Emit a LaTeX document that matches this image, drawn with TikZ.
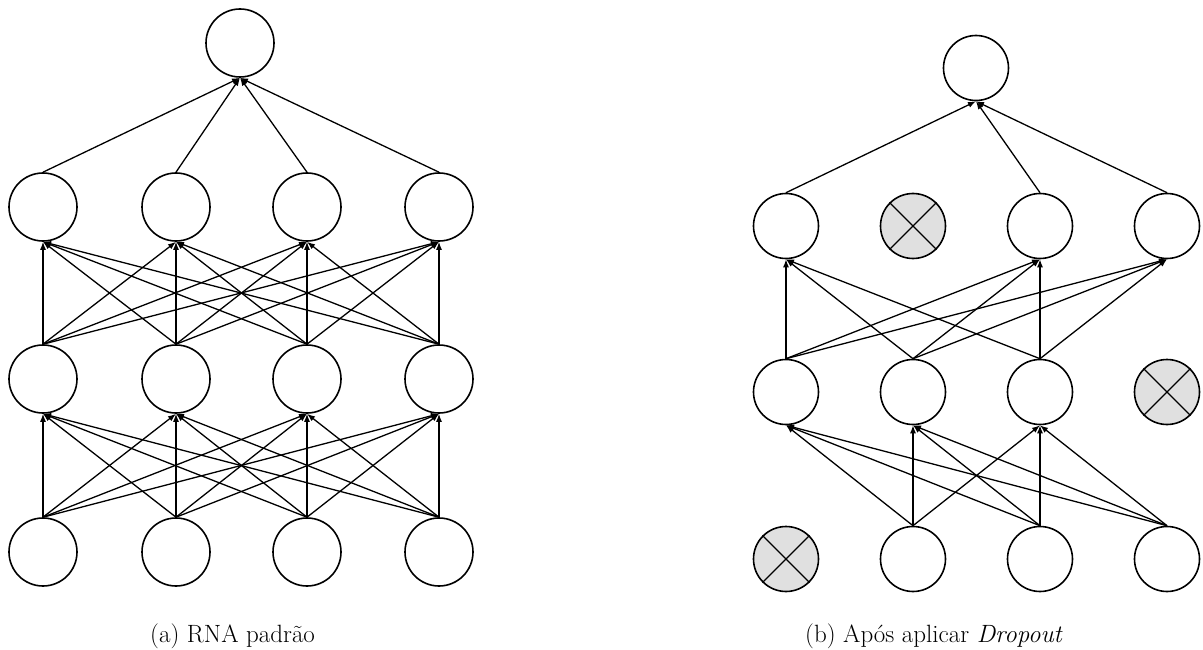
\documentclass[tikz,border=0pt]{standalone}
\usepackage{fontspec}
\usetikzlibrary{arrows.meta}
\begin{document}
\begin{tikzpicture}[x=1pt,y=-1pt,
  neuron/.style={circle,draw,line width=1.6pt,fill=white,inner sep=0pt,minimum size=68pt},
  neuronb/.style={neuron,minimum size=65pt},
  dropped/.style={neuronb,fill=black!12},
  conn/.style={line width=1.3pt,-{Latex[length=8pt,width=6pt]}},
  crossline/.style={line width=1.3pt},
  caption/.style={anchor=base west,inner sep=0pt,font=\fontsize{25}{30}\selectfont}]
\useasboundingbox (0,0) rectangle (1203,650);

% ---- (a) standard network: fully connected layers ----
\foreach \i/\x in {1/43,2/176,3/307,4/439}{
  \node[neuron] (aI\i) at (\x,552) {};
  \node[neuron] (aH\i) at (\x,379) {};
  \node[neuron] (aG\i) at (\x,207) {};
}
\node[neuron] (aO) at (240,43) {};
\foreach \i in {1,...,4}{
  \foreach \j in {1,...,4}{
    \draw[conn] (aI\i.north) -- (aH\j.south);
    \draw[conn] (aH\i.north) -- (aG\j.south);
  }
  \draw[conn] (aG\i.north) -- (aO.south);
}

% ---- (b) network after dropout ----
\node[dropped] (bI1) at (786,559) {};
\node[neuronb] (bI2) at (913,559) {};
\node[neuronb] (bI3) at (1040,559) {};
\node[neuronb] (bI4) at (1167,559) {};
\node[neuronb] (bH1) at (786,392) {};
\node[neuronb] (bH2) at (913,392) {};
\node[neuronb] (bH3) at (1040,392) {};
\node[dropped] (bH4) at (1167,392) {};
\node[neuronb] (bG1) at (786,226) {};
\node[dropped] (bG2) at (913,226) {};
\node[neuronb] (bG3) at (1040,226) {};
\node[neuronb] (bG4) at (1167,226) {};
\node[neuronb] (bO) at (976,68) {};

% crossed-out (dropped) units
\foreach \d in {bI1,bH4,bG2}{
  \draw[crossline] (\d.north west) -- (\d.south east);
  \draw[crossline] (\d.north east) -- (\d.south west);
}

\foreach \i in {2,3,4}{
  \foreach \j in {1,2,3}{
    \draw[conn] (bI\i.north) -- (bH\j.south);
  }
}
\foreach \i in {1,2,3}{
  \foreach \j in {1,3,4}{
    \draw[conn] (bH\i.north) -- (bG\j.south);
  }
}
\foreach \i in {1,3,4}{
  \draw[conn] (bG\i.north) -- (bO.south);
}

% ---- captions ----
\node[caption] (capA) at (150,642) {(a) RNA padrão};
\node[caption] (capB) at (805,642) {(b) Após aplicar \textit{Dropout}};
\end{tikzpicture}
\end{document}
